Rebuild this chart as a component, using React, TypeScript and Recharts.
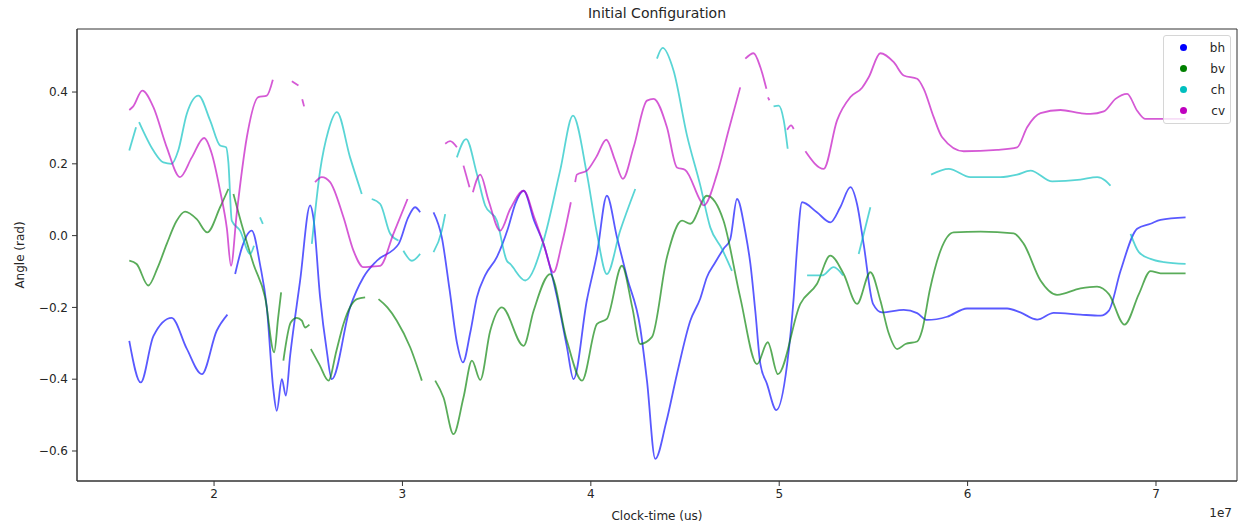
import { LineChart, Line, XAxis, YAxis, ReferenceArea } from "recharts";

// x in units of 1e7 us, y in rad; each series is split where the scatter has gaps
const xTicks = [2, 3, 4, 5, 6, 7];
const yTicks = [-0.6, -0.4, -0.2, 0.0, 0.2, 0.4];

const bhSegments: number[][][] = [
  [[1.55, -0.293], [1.611, -0.409], [1.678, -0.28], [1.775, -0.229], [1.855, -0.315], [1.935, -0.386], [2.014, -0.265], [2.071, -0.22]],
  [[2.112, -0.107], [2.15, -0.03], [2.2, 0.014], [2.244, -0.08], [2.28, -0.2], [2.315, -0.43], [2.333, -0.488], [2.36, -0.4], [2.381, -0.446],
   [2.404, -0.334], [2.457, -0.125], [2.51, 0.084], [2.527, 0.051], [2.563, -0.172], [2.598, -0.32], [2.625, -0.4], [2.722, -0.2],
   [2.793, -0.116], [2.864, -0.07], [2.98, -0.023], [3.03, 0.05], [3.067, 0.079], [3.094, 0.065]],
  [[3.165, 0.065], [3.209, -0.005], [3.25, -0.15], [3.29, -0.3], [3.321, -0.353], [3.36, -0.27], [3.395, -0.172], [3.439, -0.111],
   [3.501, -0.06], [3.56, 0.02], [3.6, 0.09], [3.643, 0.125], [3.7, 0.04], [3.749, -0.023], [3.82, -0.17], [3.873, -0.31], [3.908, -0.4],
   [3.979, -0.18], [4.033, -0.05], [4.085, 0.111], [4.139, -0.005], [4.192, -0.116], [4.262, -0.256], [4.298, -0.404], [4.342, -0.622],
   [4.4, -0.52], [4.457, -0.386], [4.528, -0.237], [4.581, -0.175], [4.616, -0.116], [4.66, -0.075], [4.704, -0.037], [4.74, -0.01],
   [4.776, 0.102], [4.82, 0.01], [4.847, -0.079], [4.873, -0.21], [4.9, -0.358], [4.935, -0.413], [4.985, -0.486], [5.042, -0.358],
   [5.077, -0.172], [5.095, -0.033], [5.121, 0.093], [5.2, 0.065], [5.272, 0.037], [5.324, 0.079], [5.378, 0.135], [5.413, 0.088],
   [5.448, -0.023], [5.498, -0.19], [5.546, -0.214], [5.661, -0.207], [5.732, -0.216], [5.785, -0.235], [5.891, -0.226], [5.997, -0.203],
   [6.21, -0.203], [6.28, -0.214], [6.369, -0.234], [6.457, -0.215], [6.599, -0.22], [6.706, -0.223], [6.75, -0.209], [6.812, -0.098],
   [6.9, 0.019], [6.971, 0.033], [7.024, 0.044], [7.157, 0.051]],
];

const bvSegments: number[][][] = [
  [[1.55, -0.07], [1.589, -0.079], [1.651, -0.139], [1.7, -0.09], [1.749, -0.023], [1.8, 0.04], [1.846, 0.067], [1.908, 0.046],
   [1.964, 0.009], [2.032, 0.079], [2.076, 0.13]],
  [[2.103, 0.116], [2.156, 0.014], [2.209, -0.079], [2.271, -0.172], [2.319, -0.325], [2.34, -0.23], [2.356, -0.158]],
  [[2.368, -0.348], [2.407, -0.242], [2.439, -0.229], [2.466, -0.237], [2.483, -0.256], [2.506, -0.248]],
  [[2.514, -0.316], [2.56, -0.36], [2.607, -0.404], [2.65, -0.32], [2.687, -0.246], [2.758, -0.177], [2.802, -0.172]],
  [[2.873, -0.177], [2.92, -0.2], [2.97, -0.237], [3.041, -0.311], [3.103, -0.404]],
  [[3.174, -0.404], [3.218, -0.451], [3.271, -0.553], [3.324, -0.451], [3.369, -0.348], [3.413, -0.402], [3.466, -0.265], [3.528, -0.2],
   [3.643, -0.307], [3.696, -0.21], [3.784, -0.107], [3.873, -0.293], [3.953, -0.404], [4.033, -0.246], [4.085, -0.232], [4.165, -0.084],
   [4.22, -0.2], [4.262, -0.302], [4.324, -0.283], [4.404, -0.06], [4.484, 0.042], [4.528, 0.033], [4.616, 0.111], [4.704, 0.042],
   [4.793, -0.172], [4.882, -0.358], [4.939, -0.297], [4.993, -0.386], [5.112, -0.19], [5.2, -0.135], [5.271, -0.056], [5.342, -0.107],
   [5.413, -0.19], [5.484, -0.102], [5.537, -0.181], [5.58, -0.27], [5.626, -0.316], [5.67, -0.302], [5.732, -0.295], [5.758, -0.265],
   [5.8, -0.15], [5.856, -0.042], [5.926, 0.009], [6.069, 0.011], [6.245, 0.006], [6.298, -0.023], [6.387, -0.125], [6.475, -0.165],
   [6.599, -0.147], [6.687, -0.142], [6.75, -0.163], [6.833, -0.248], [6.909, -0.163], [6.971, -0.099], [7.024, -0.105], [7.157, -0.105]],
];

const chSegments: number[][][] = [
  [[1.55, 0.237], [1.586, 0.302]],
  [[1.602, 0.316], [1.678, 0.237], [1.731, 0.204], [1.775, 0.2], [1.81, 0.237], [1.855, 0.339], [1.917, 0.39], [1.979, 0.321],
   [2.032, 0.251], [2.064, 0.246], [2.076, 0.204], [2.094, 0.042], [2.138, 0.014], [2.191, -0.051], [2.212, -0.028]],
  [[2.244, 0.051], [2.259, 0.033]],
  [[2.519, -0.023], [2.563, 0.181], [2.607, 0.293], [2.652, 0.344], [2.722, 0.218], [2.784, 0.116]],
  [[2.837, 0.102], [2.882, 0.088], [2.935, 0.005], [2.979, -0.014]],
  [[3.005, -0.042], [3.05, -0.07], [3.094, -0.051]],
  [[3.165, -0.046], [3.209, 0.014], [3.227, 0.06]],
  [[3.289, 0.218], [3.338, 0.269], [3.395, 0.172], [3.439, 0.084], [3.501, 0.042], [3.554, -0.07], [3.572, -0.079], [3.652, -0.125],
   [3.749, -0.014], [3.837, 0.181], [3.905, 0.334], [3.979, 0.172], [4.033, 0.005], [4.085, -0.107], [4.156, 0.014], [4.236, 0.13]],
  [[4.351, 0.493], [4.381, 0.523], [4.439, 0.46], [4.51, 0.28], [4.581, 0.14], [4.634, 0.023], [4.696, -0.037], [4.749, -0.098]],
  [[4.97, 0.36], [4.997, 0.362], [5.024, 0.321], [5.045, 0.242]],
  [[5.148, -0.111], [5.227, -0.111], [5.289, -0.088], [5.339, -0.111]],
  [[5.422, -0.051], [5.484, 0.079]],
  [[5.806, 0.17], [5.9, 0.186], [6.015, 0.163], [6.174, 0.163], [6.263, 0.17], [6.334, 0.181], [6.449, 0.151], [6.599, 0.156],
   [6.688, 0.163], [6.732, 0.153], [6.758, 0.139]],
  [[6.865, 0.005], [6.909, -0.046], [6.971, -0.065], [7.042, -0.074], [7.157, -0.079]],
];

const cvSegments: number[][][] = [
  [[1.55, 0.35], [1.571, 0.36], [1.619, 0.404], [1.678, 0.358], [1.749, 0.246], [1.819, 0.163], [1.882, 0.218], [1.947, 0.272],
   [1.988, 0.228], [2.032, 0.125], [2.068, 0.02], [2.09, -0.084], [2.12, 0.06], [2.174, 0.274], [2.235, 0.386], [2.28, 0.39], [2.312, 0.434]],
  [[2.413, 0.43], [2.448, 0.418]],
  [[2.468, 0.38], [2.478, 0.36]],
  [[2.536, 0.149], [2.572, 0.163], [2.616, 0.149], [2.687, 0.051], [2.74, -0.042], [2.793, -0.088], [2.837, -0.086], [2.882, -0.084],
   [2.952, 0.005], [3.027, 0.102]],
  [[3.227, 0.256], [3.253, 0.263], [3.289, 0.246]],
  [[3.324, 0.195], [3.356, 0.135]],
  [[3.374, 0.121], [3.413, 0.17], [3.457, 0.098], [3.519, 0.014], [3.572, 0.074], [3.643, 0.125], [3.7, 0.05], [3.749, -0.023],
   [3.802, -0.102], [3.846, -0.023], [3.894, 0.093]],
  [[3.917, 0.149], [3.926, 0.17], [3.979, 0.181], [4.03, 0.22], [4.082, 0.267], [4.129, 0.209], [4.17, 0.158], [4.227, 0.246],
   [4.298, 0.376], [4.333, 0.381], [4.404, 0.302], [4.457, 0.19], [4.501, 0.183], [4.581, 0.098], [4.599, 0.084], [4.67, 0.172],
   [4.731, 0.293], [4.793, 0.413]],
  [[4.82, 0.493], [4.864, 0.508], [4.9, 0.469], [4.932, 0.409]],
  [[4.94, 0.385], [4.948, 0.377]],
  [[5.042, 0.295], [5.063, 0.307], [5.077, 0.297]],
  [[5.139, 0.235], [5.236, 0.186], [5.307, 0.321], [5.378, 0.386], [5.44, 0.412], [5.475, 0.441], [5.537, 0.508], [5.608, 0.483],
   [5.661, 0.446], [5.732, 0.437], [5.767, 0.409], [5.82, 0.33], [5.865, 0.274], [5.979, 0.235], [6.157, 0.239], [6.263, 0.246],
   [6.316, 0.302], [6.387, 0.341], [6.493, 0.35], [6.599, 0.341], [6.652, 0.339], [6.723, 0.346], [6.785, 0.381], [6.847, 0.395],
   [6.9, 0.348], [6.944, 0.325], [7.157, 0.325]],
];

const series = [
  { name: "bh", color: "#0000ff", segments: bhSegments },
  { name: "bv", color: "#008000", segments: bvSegments },
  { name: "ch", color: "#00bfbf", segments: chSegments },
  { name: "cv", color: "#bf00bf", segments: cvSegments },
];

const X_MIN = 1.2725;
const X_MAX = 7.43;
const Y_MIN = -0.6836;
const Y_MAX = 0.5756;

const fmtY = (v: number) => v.toFixed(1).replace("-", "\u2212");

export default function App() {
  const tickStyle = { fontSize: 12, fill: "#262626" };
  return (
    <div style={{ position: "absolute", left: 0, top: 0, width: 1247, height: 531, background: "#fff", fontFamily: "DejaVu Sans" }}>
      <LineChart width={1247} height={531} margin={{ top: 29, right: 10, bottom: 0, left: 0 }}>
        <XAxis
          type="number"
          dataKey="x"
          domain={[X_MIN, X_MAX]}
          ticks={xTicks}
          allowDataOverflow
          height={50}
          tick={tickStyle}
          tickSize={5}
          tickMargin={3}
          stroke="#333"
        />
        <YAxis
          type="number"
          dataKey="y"
          domain={[Y_MIN, Y_MAX]}
          ticks={yTicks}
          allowDataOverflow
          width={77}
          tick={tickStyle}
          tickFormatter={fmtY}
          tickSize={5}
          tickMargin={4}
          stroke="#333"
        />
        <ReferenceArea x1={X_MIN} x2={X_MAX} y1={Y_MIN} y2={Y_MAX} fill="none" stroke="#333" strokeWidth={1} ifOverflow="visible" />
        {series.map((s) =>
          s.segments.map((seg, i) => (
            <Line
              key={s.name + i}
              data={seg.map(([x, y]) => ({ x, y }))}
              dataKey="y"
              type="monotone"
              stroke={s.color}
              strokeOpacity={0.65}
              strokeWidth={1.8}
              dot={false}
              activeDot={false}
              isAnimationActive={false}
            />
          ))
        )}
      </LineChart>
      <div style={{ position: "absolute", left: 0, width: 1314, top: 5, textAlign: "center", fontSize: 14, color: "#262626" }}>
        Initial Configuration
      </div>
      <div style={{ position: "absolute", left: 0, width: 1314, top: 509, textAlign: "center", fontSize: 12, color: "#262626" }}>
        Clock-time (us)
      </div>
      <div style={{ position: "absolute", left: 1190, width: 42, top: 506, textAlign: "right", fontSize: 12, color: "#262626" }}>1e7</div>
      <div
        style={{
          position: "absolute",
          left: 20,
          top: 255,
          transform: "translate(-50%, -50%) rotate(-90deg)",
          fontSize: 12,
          color: "#262626",
          whiteSpace: "nowrap",
        }}
      >
        Angle (rad)
      </div>
      <div
        style={{
          position: "absolute",
          left: 1163,
          top: 35,
          width: 66,
          height: 87,
          border: "1px solid #d6d6d6",
          borderRadius: 3,
          background: "rgba(255,255,255,0.8)",
          fontSize: 12,
          color: "#262626",
        }}
      >
        {series.map((s, i) => (
          <div key={s.name} style={{ position: "absolute", left: 0, top: 4 + i * 21, height: 16, width: 66 }}>
            <span
              style={{ position: "absolute", left: 16, top: 4, width: 7, height: 7, borderRadius: "50%", background: s.color }}
            />
            <span style={{ position: "absolute", right: 5, top: 0, lineHeight: "16px" }}>{s.name}</span>
          </div>
        ))}
      </div>
    </div>
  );
}
